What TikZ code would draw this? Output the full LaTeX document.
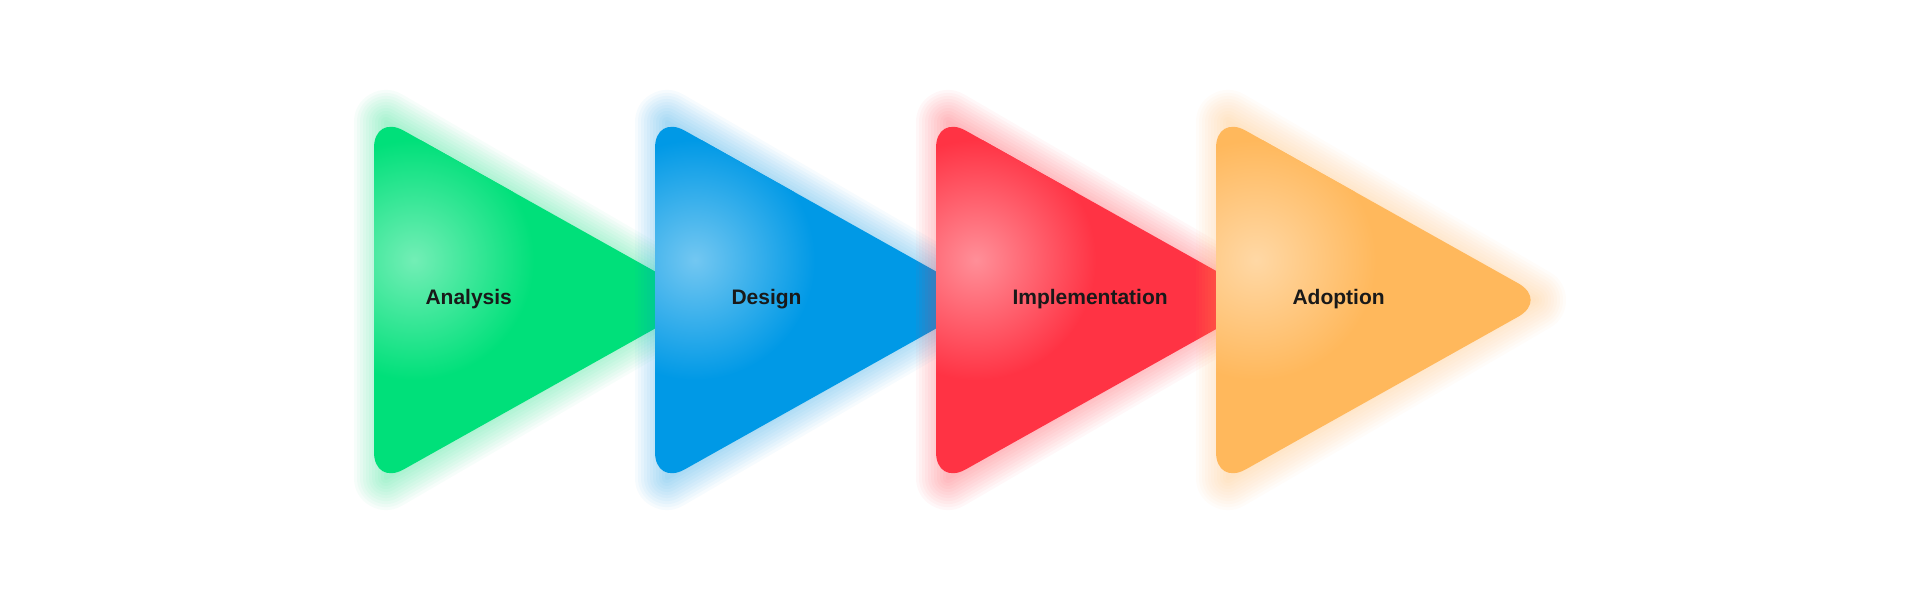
\documentclass[tikz,border=0pt]{standalone}
\usepackage{fontspec}
\setmainfont{Liberation Sans}
\definecolor{cgreen}{HTML}{00E07A}
\definecolor{cblue}{HTML}{0099E6}
\definecolor{cred}{HTML}{FF3344}
\definecolor{corange}{HTML}{FFB85C}
\tikzset{lbl/.style={font=\bfseries\fontsize{21}{24}\selectfont, text=black!90, anchor=west}}
\newcommand{\tri}[2]{%
  \foreach \w in {64,58,...,4}{%
    \draw[#2, line width=\w pt, opacity=0.035, line join=round]
      (#1+12,122) -- (#1+12,478) -- (#1+318,300) -- cycle;}
  \fill[#2, rounded corners=34pt] (#1,114) -- (#1,486) -- (#1+332,300) -- cycle;
  \begin{scope}
  \clip[rounded corners=34pt] (#1,114) -- (#1,486) -- (#1+332,300) -- cycle;
  \shade[inner color=white!45!#2, outer color=#2] (#1+40,260) circle (120pt);
  \end{scope}
}
\begin{document}
\begin{tikzpicture}[x=1pt,y=-1pt]
\useasboundingbox (0,0) rectangle (1921,600);
\fill[white] (0,0) rectangle (1921,600);
\tri{374}{cgreen}
\tri{655}{cblue}
\tri{936}{cred}
\tri{1216}{corange}
\node[lbl] (a) at (422,299) {Analysis};
\node[lbl] (d) at (728,299) {Design};
\node[lbl] (i) at (1009,299) {Implementation};
\node[lbl] (p) at (1289,299) {Adoption};
\end{tikzpicture}
\end{document}
